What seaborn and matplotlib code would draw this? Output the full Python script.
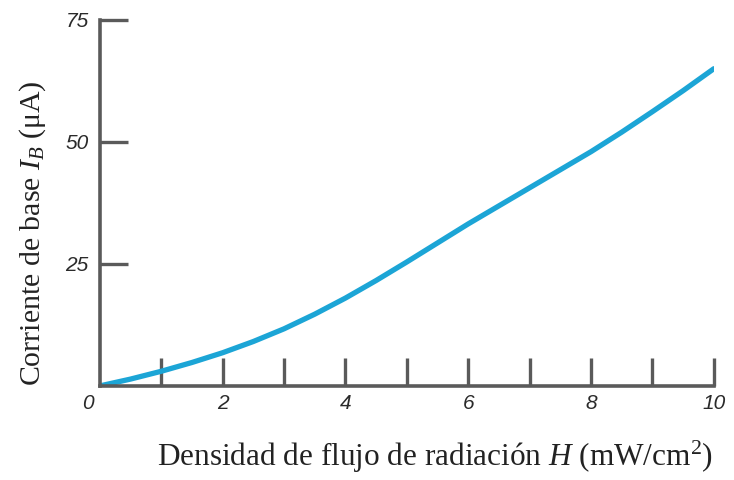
import pandas as pd
import seaborn as sns
import matplotlib.pyplot as plt
from matplotlib.transforms import ScaledTranslation

# curve (H in mW/cm2, IB in uA)
flux_h = [0, 0.5, 1, 1.5, 2, 2.5, 3, 3.5, 4, 4.5, 5,
          5.5, 6, 6.5, 7, 7.5, 8, 8.5, 9, 9.5, 10]
base_current = [0, 1.4, 3.0, 4.8, 6.8, 9.1, 11.7, 14.7, 18.0, 21.6, 25.4,
                29.3, 33.2, 36.9, 40.6, 44.3, 48.0, 52.0, 56.2, 60.5, 65.0]
x_ticks = list(range(0, 11))
x_tick_labels = ['0', '', '2', '', '4', '', '6', '', '8', '', '10']
y_ticks = [25, 50, 75]

sns.set_style("white")
plt.rcParams['font.family'] = ['Liberation Sans', 'DejaVu Sans']
plt.rcParams['mathtext.fontset'] = 'custom'
plt.rcParams['mathtext.rm'] = 'Liberation Serif'
plt.rcParams['mathtext.it'] = 'Liberation Serif:italic'

df = pd.DataFrame({'H': flux_h, 'IB': base_current})

fig = plt.figure(figsize=(7.34, 4.8), dpi=100)
ax = fig.add_axes([0.136, 0.196, 0.8365, 0.7625])

sns.lineplot(data=df, x='H', y='IB', ax=ax, color='#1ca5d6', linewidth=3.8)

ax.set_xlim(0, 10)
ax.set_ylim(0, 75)
sns.despine(ax=ax)
for side in ['left', 'bottom']:
    ax.spines[side].set_color('#5a5a5a')
    ax.spines[side].set_linewidth(2.6)

ax.set_xticks(x_ticks)
ax.set_xticklabels(x_tick_labels)
ax.set_yticks(y_ticks)
ax.tick_params(axis='both', bottom=True, left=True, direction='in', length=20,
               width=2.4, color='#5a5a5a', labelsize=15, labelcolor='#2a2a2a')
ax.tick_params(axis='x', pad=6)
ax.tick_params(axis='y', pad=8)
ax.xaxis.get_major_ticks()[0].tick1line.set_visible(False)
for lbl in ax.get_xticklabels() + ax.get_yticklabels():
    lbl.set_style('italic')
# the "0" sits a little left of the corner
zero_lbl = ax.get_xticklabels()[0]
zero_lbl.set_transform(zero_lbl.get_transform() + ScaledTranslation(-0.12, 0, fig.dpi_scale_trans))

ax.set_xlabel('')
ax.set_ylabel('')
fig.text(0.593, 0.03, r'Densidad de flujo de radiación $H$ (mW/cm$^2$)',
         family='Liberation Serif', fontsize=22.5, ha='center', va='baseline', color='#222222')
fig.text(0.044, 0.515, r'Corriente de base $I_B$ (μA)',
         family='Liberation Serif', fontsize=21.5, ha='center', va='center',
         rotation=90, color='#222222')

fig.savefig('out.png', dpi=100)
